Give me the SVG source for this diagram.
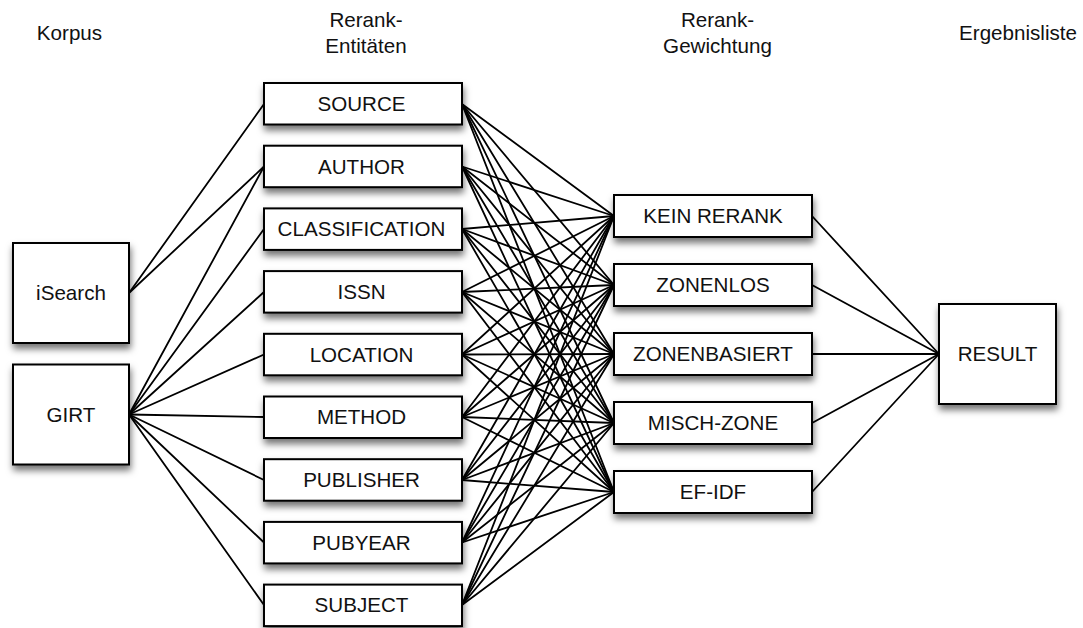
<svg xmlns="http://www.w3.org/2000/svg" width="1083" height="628" viewBox="0 0 1083 628">
  <style>
    .box { fill: #ffffff; stroke: #000000; stroke-width: 2; filter: url(#shadow); }
    .lbl { font-family: "Liberation Sans", Arial, sans-serif; font-size: 20.6px; fill: #111111; text-anchor: middle; }
    .hdr { font-family: "Liberation Sans", Arial, sans-serif; font-size: 20.6px; fill: #111111; text-anchor: middle; }
    #connectors line { stroke: #000000; stroke-width: 1.8; stroke-linecap: round; }
  </style>
  <defs>
    <filter id="shadow" x="-20%" y="-30%" width="140%" height="170%">
      <feDropShadow dx="1" dy="5" stdDeviation="3.5" flood-color="#000000" flood-opacity="0.55"/>
    </filter>
  </defs>
  <rect width="1083" height="628" fill="#ffffff"/>

  <!-- column headings -->
  <g id="headers">
    <text class="hdr" x="69.5" y="40">Korpus</text>
    <text class="hdr" x="366" y="26.5">Rerank-</text>
    <text class="hdr" x="366" y="53">Entitäten</text>
    <text class="hdr" x="717.5" y="26.5">Rerank-</text>
    <text class="hdr" x="717.5" y="53">Gewichtung</text>
    <text class="hdr" x="1018" y="40">Ergebnisliste</text>
  </g>

  <g id="connectors">
    <!-- corpus to entities -->
    <line x1="129" y1="293" x2="264" y2="104"/>
    <line x1="129" y1="293" x2="264" y2="166.5"/>
    <line x1="129" y1="414.5" x2="264" y2="166.5"/>
    <line x1="129" y1="414.5" x2="264" y2="229"/>
    <line x1="129" y1="414.5" x2="264" y2="292"/>
    <line x1="129" y1="414.5" x2="264" y2="354.5"/>
    <line x1="129" y1="414.5" x2="264" y2="417"/>
    <line x1="129" y1="414.5" x2="264" y2="480"/>
    <line x1="129" y1="414.5" x2="264" y2="542.5"/>
    <line x1="129" y1="414.5" x2="264" y2="605"/>
    <!-- entities to weightings (every pair) -->
    <line x1="462" y1="104" x2="614" y2="216"/>
    <line x1="462" y1="104" x2="614" y2="285"/>
    <line x1="462" y1="104" x2="614" y2="354"/>
    <line x1="462" y1="104" x2="614" y2="423"/>
    <line x1="462" y1="104" x2="614" y2="492"/>
    <line x1="462" y1="166.5" x2="614" y2="216"/>
    <line x1="462" y1="166.5" x2="614" y2="285"/>
    <line x1="462" y1="166.5" x2="614" y2="354"/>
    <line x1="462" y1="166.5" x2="614" y2="423"/>
    <line x1="462" y1="166.5" x2="614" y2="492"/>
    <line x1="462" y1="229" x2="614" y2="216"/>
    <line x1="462" y1="229" x2="614" y2="285"/>
    <line x1="462" y1="229" x2="614" y2="354"/>
    <line x1="462" y1="229" x2="614" y2="423"/>
    <line x1="462" y1="229" x2="614" y2="492"/>
    <line x1="462" y1="292" x2="614" y2="216"/>
    <line x1="462" y1="292" x2="614" y2="285"/>
    <line x1="462" y1="292" x2="614" y2="354"/>
    <line x1="462" y1="292" x2="614" y2="423"/>
    <line x1="462" y1="292" x2="614" y2="492"/>
    <line x1="462" y1="354.5" x2="614" y2="216"/>
    <line x1="462" y1="354.5" x2="614" y2="285"/>
    <line x1="462" y1="354.5" x2="614" y2="354"/>
    <line x1="462" y1="354.5" x2="614" y2="423"/>
    <line x1="462" y1="354.5" x2="614" y2="492"/>
    <line x1="462" y1="417" x2="614" y2="216"/>
    <line x1="462" y1="417" x2="614" y2="285"/>
    <line x1="462" y1="417" x2="614" y2="354"/>
    <line x1="462" y1="417" x2="614" y2="423"/>
    <line x1="462" y1="417" x2="614" y2="492"/>
    <line x1="462" y1="480" x2="614" y2="216"/>
    <line x1="462" y1="480" x2="614" y2="285"/>
    <line x1="462" y1="480" x2="614" y2="354"/>
    <line x1="462" y1="480" x2="614" y2="423"/>
    <line x1="462" y1="480" x2="614" y2="492"/>
    <line x1="462" y1="542.5" x2="614" y2="216"/>
    <line x1="462" y1="542.5" x2="614" y2="285"/>
    <line x1="462" y1="542.5" x2="614" y2="354"/>
    <line x1="462" y1="542.5" x2="614" y2="423"/>
    <line x1="462" y1="542.5" x2="614" y2="492"/>
    <line x1="462" y1="605" x2="614" y2="216"/>
    <line x1="462" y1="605" x2="614" y2="285"/>
    <line x1="462" y1="605" x2="614" y2="354"/>
    <line x1="462" y1="605" x2="614" y2="423"/>
    <line x1="462" y1="605" x2="614" y2="492"/>
    <!-- weightings to result -->
    <line x1="812" y1="216" x2="939" y2="354"/>
    <line x1="812" y1="285" x2="939" y2="354"/>
    <line x1="812" y1="354" x2="939" y2="354"/>
    <line x1="812" y1="423" x2="939" y2="354"/>
    <line x1="812" y1="492" x2="939" y2="354"/>
  </g>

  <!-- corpora -->
  <g id="isearch"><rect class="box" x="13" y="243" width="116" height="100"/><text class="lbl" x="71" y="300">iSearch</text></g>
  <g id="girt"><rect class="box" x="13" y="364.5" width="116" height="100"/><text class="lbl" x="71" y="421.5">GIRT</text></g>

  <!-- rerank entities -->
  <g id="source"><rect class="box" x="264" y="83" width="198" height="41.5"/><text class="lbl" x="361.5" y="111">SOURCE</text></g>
  <g id="author"><rect class="box" x="264" y="145.7" width="198" height="41.5"/><text class="lbl" x="361.5" y="173.5">AUTHOR</text></g>
  <g id="classification"><rect class="box" x="264" y="208.4" width="198" height="41.5"/><text class="lbl" x="361.5" y="236">CLASSIFICATION</text></g>
  <g id="issn"><rect class="box" x="264" y="271.1" width="198" height="41.5"/><text class="lbl" x="361.5" y="299">ISSN</text></g>
  <g id="location"><rect class="box" x="264" y="333.8" width="198" height="41.5"/><text class="lbl" x="361.5" y="361.5">LOCATION</text></g>
  <g id="method"><rect class="box" x="264" y="396.5" width="198" height="41.5"/><text class="lbl" x="361.5" y="424">METHOD</text></g>
  <g id="publisher"><rect class="box" x="264" y="459.2" width="198" height="41.5"/><text class="lbl" x="361.5" y="487">PUBLISHER</text></g>
  <g id="pubyear"><rect class="box" x="264" y="521.9" width="198" height="41.5"/><text class="lbl" x="361.5" y="549.5">PUBYEAR</text></g>
  <g id="subject"><rect class="box" x="264" y="584.6" width="198" height="41.5"/><text class="lbl" x="361.5" y="612">SUBJECT</text></g>

  <!-- rerank weightings -->
  <g id="kein-rerank"><rect class="box" x="614" y="195" width="198" height="42"/><text class="lbl" x="713" y="223">KEIN RERANK</text></g>
  <g id="zonenlos"><rect class="box" x="614" y="264" width="198" height="42"/><text class="lbl" x="713" y="292">ZONENLOS</text></g>
  <g id="zonenbasiert"><rect class="box" x="614" y="333" width="198" height="42"/><text class="lbl" x="713" y="361">ZONENBASIERT</text></g>
  <g id="misch-zone"><rect class="box" x="614" y="402" width="198" height="42"/><text class="lbl" x="713" y="430">MISCH-ZONE</text></g>
  <g id="ef-idf"><rect class="box" x="614" y="471" width="198" height="42"/><text class="lbl" x="713" y="499">EF-IDF</text></g>

  <!-- result list -->
  <g id="result"><rect class="box" x="939" y="304" width="117" height="100"/><text class="lbl" x="997.5" y="361">RESULT</text></g>
</svg>
